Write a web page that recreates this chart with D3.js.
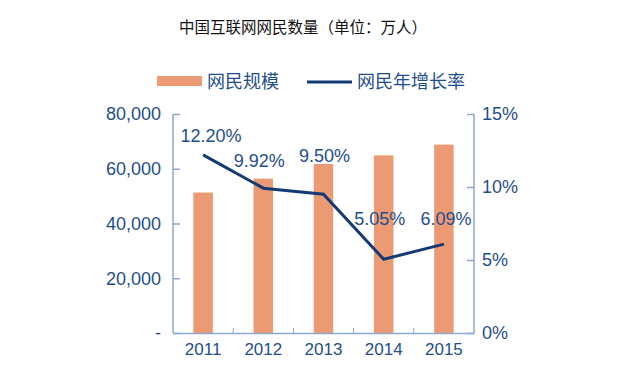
<!DOCTYPE html>
<html>
<head>
<meta charset="utf-8">
<script src="https://cdn.jsdelivr.net/npm/d3@7"></script>
<style>
  body { margin: 0; background: #fff; }
  svg text { font-family: "Liberation Sans", Arial, "Noto Sans CJK SC", sans-serif; }
</style>
</head>
<body>
<div id="chart"></div>
<script>
// data
const years = ["2011", "2012", "2013", "2014", "2015"];
const users = [51310, 56400, 61758, 64875, 68826];
const growth = [12.20, 9.92, 9.50, 5.05, 6.09];
const leftTicks = [0, 20000, 40000, 60000, 80000];
const rightTicks = [0, 5, 10, 15];

// label nudges for the growth labels (dx, dy relative to point)
const labelNudge = [[8, -13], [-4, -21], [1, -32], [-4, -34], [2, -19]];

const FRAME_WIDTH = 629;
const FRAME_HEIGHT = 386;
const MARGINS = {left: 173, right: 155, top: 114, bottom: 53};
const VIS_WIDTH = FRAME_WIDTH - MARGINS.left - MARGINS.right;
const VIS_HEIGHT = FRAME_HEIGHT - MARGINS.top - MARGINS.bottom;

const TEXT_BLUE = "#1F4E8C";
const AXIS_COLOR = "#8EA9CB";
const BAR_COLOR = "#EC9A74";
const LINE_COLOR = "#143A73";

const svg = d3.select("#chart")
    .append("svg")
    .attr("width", FRAME_WIDTH)
    .attr("height", FRAME_HEIGHT);

// title
svg.append("text")
    .attr("x", 303)
    .attr("y", 33)
    .attr("text-anchor", "middle")
    .attr("font-size", "15.5px")
    .style("font-family", "'Noto Sans CJK SC', sans-serif")
    .attr("fill", "#111")
    .text("中国互联网网民数量（单位：万人）");

// legend
const legend = svg.append("g");
legend.append("rect")
    .attr("x", 157).attr("y", 76)
    .attr("width", 45).attr("height", 10)
    .attr("fill", BAR_COLOR);
legend.append("text")
    .attr("x", 207).attr("y", 88)
    .attr("font-size", "18px")
    .style("font-family", "'Noto Sans CJK SC', sans-serif")
    .attr("fill", TEXT_BLUE)
    .text("网民规模");
legend.append("line")
    .attr("x1", 307).attr("x2", 352)
    .attr("y1", 82).attr("y2", 82)
    .attr("stroke", LINE_COLOR)
    .attr("stroke-width", 3);
legend.append("text")
    .attr("x", 357).attr("y", 88)
    .attr("font-size", "18px")
    .style("font-family", "'Noto Sans CJK SC', sans-serif")
    .attr("fill", TEXT_BLUE)
    .text("网民年增长率");

// scales
const BAND = d3.scaleBand().domain(years).range([0, VIS_WIDTH]);

const Y_LEFT = d3.scaleLinear()
    .domain([0, 80000])
    .range([VIS_HEIGHT, 0]);

const Y_RIGHT = d3.scaleLinear()
    .domain([0, 15])
    .range([VIS_HEIGHT, 0]);

const plot = svg.append("g")
    .attr("transform", "translate(" + MARGINS.left + "," + MARGINS.top + ")");

// bars
plot.selectAll(".bar")
    .data(users)
    .enter()
    .append("rect")
    .attr("class", "bar")
    .attr("x", (d, i) => BAND(years[i]) + BAND.bandwidth() / 2 - 9.75)
    .attr("width", 19.5)
    .attr("y", (d) => Y_LEFT(d))
    .attr("height", (d) => VIS_HEIGHT - Y_LEFT(d))
    .attr("fill", BAR_COLOR);

// left axis
const leftAxis = plot.append("g")
    .call(d3.axisLeft(Y_LEFT)
        .tickValues(leftTicks)
        .tickSize(-7)
        .tickPadding(12)
        .tickFormat((d) => d === 0 ? "-" : d3.format(",")(d)));

// right axis
const rightAxis = plot.append("g")
    .attr("transform", "translate(" + VIS_WIDTH + ",0)")
    .call(d3.axisRight(Y_RIGHT)
        .tickValues(rightTicks)
        .tickSize(-7)
        .tickPadding(8)
        .tickFormat((d) => d + "%"));

// bottom axis
const bottomAxis = plot.append("g")
    .attr("transform", "translate(0," + VIS_HEIGHT + ")")
    .call(d3.axisBottom(BAND).tickSize(0).tickPadding(10));

// bottom tick marks between categories
plot.selectAll(".xtick")
    .data(years.slice(1))
    .enter()
    .append("line")
    .attr("x1", (d) => BAND(d))
    .attr("x2", (d) => BAND(d))
    .attr("y1", VIS_HEIGHT)
    .attr("y2", VIS_HEIGHT - 5)
    .attr("stroke", AXIS_COLOR);

[leftAxis, rightAxis, bottomAxis].forEach((g) => {
    g.select(".domain").attr("stroke", AXIS_COLOR).attr("stroke-width", 1.5);
    g.selectAll(".tick line").attr("stroke", AXIS_COLOR).attr("stroke-width", 1.5);
    g.selectAll(".tick text")
        .attr("fill", TEXT_BLUE)
        .attr("font-size", "18px")
        .style("font-family", "'Liberation Sans', Arial, sans-serif");
});
leftAxis.select(".domain").attr("d", "M0,0V" + VIS_HEIGHT);
rightAxis.select(".domain").attr("d", "M0,0V" + VIS_HEIGHT);
bottomAxis.selectAll(".tick text").attr("font-size", "17px");

// growth line
const line = d3.line()
    .x((d, i) => BAND(years[i]) + BAND.bandwidth() / 2)
    .y((d) => Y_RIGHT(d));

plot.append("path")
    .datum(growth)
    .attr("d", line)
    .attr("fill", "none")
    .attr("stroke", LINE_COLOR)
    .attr("stroke-width", 3);

// growth labels
plot.selectAll(".glabel")
    .data(growth)
    .enter()
    .append("text")
    .attr("class", "glabel")
    .attr("x", (d, i) => BAND(years[i]) + BAND.bandwidth() / 2 + labelNudge[i][0])
    .attr("y", (d, i) => Y_RIGHT(d) + labelNudge[i][1])
    .attr("text-anchor", "middle")
    .attr("font-size", "18px")
    .attr("fill", TEXT_BLUE)
    .text((d) => d.toFixed(2) + "%");
</script>
</body>
</html>
